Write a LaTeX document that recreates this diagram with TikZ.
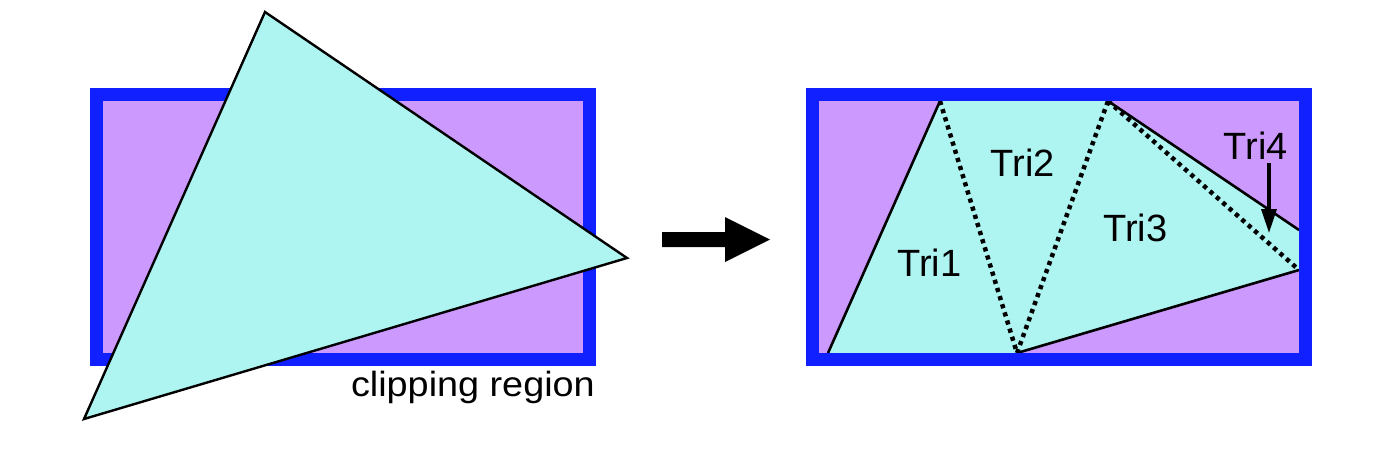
\documentclass[tikz,border=0pt]{standalone}
\usepackage{fontspec}
\setmainfont{Liberation Sans}
\usetikzlibrary{arrows.meta}
\definecolor{regionfill}{RGB}{204,153,255}
\definecolor{regionedge}{RGB}{16,32,255}
\definecolor{trifill}{RGB}{174,245,242}
\tikzset{
  region/.style={fill=regionfill,draw=regionedge,line width=13pt},
  trishape/.style={fill=trifill,draw=black,line width=2.4pt,line join=miter},
  edgeline/.style={draw=black,line width=2.6pt},
  splitline/.style={draw=black,line width=4.5pt,dash pattern=on 4.2pt off 4.3pt},
  lbl/.style={font=\fontsize{38pt}{40pt}\selectfont,inner sep=0pt},
  bigarrow/.style={fill=black,draw=none},
  pointer/.style={draw=black,line width=3.5pt,-{Triangle[length=24pt,width=15pt]}}
}
\begin{document}
\begin{tikzpicture}[x=1pt,y=-1pt]
\useasboundingbox (0,0) rectangle (1390,456);
% ---------- left panel ----------
\draw[region] (96.5,94.5) rectangle (589.5,359.5);
\coordinate (T1) at (265,12);
\coordinate (T2) at (627,258);
\coordinate (T3) at (84,419);
\draw[trishape] (T1) -- (T2) -- (T3) -- cycle;
\node[inner sep=0pt,anchor=base east] (cliplabel) at (595,396)
  {\scalebox{1.08}[1]{\fontsize{35pt}{38pt}\selectfont clipping region}};
% ---------- arrow ----------
\fill[bigarrow] (662,232) -- (725,232) -- (725,217) -- (770,239.5)
  -- (725,262) -- (725,247) -- (662,247) -- cycle;
% ---------- right panel ----------
\fill[regionfill] (812.5,94) rectangle (1305.5,359.5);
\coordinate (A) at (828,353);
\coordinate (B) at (940,101);
\coordinate (C) at (1108,101);
\coordinate (D) at (1299,230);
\coordinate (E) at (1299,270);
\coordinate (F) at (1017,353);
\fill[trifill] (A) -- (B) -- (C) -- (D) -- (E) -- (F) -- cycle;
\draw[edgeline] (A) -- (B);
\draw[edgeline] (C) -- (D);
\draw[edgeline] (E) -- (F);
\draw[splitline] (B) -- (F);
\draw[splitline] (F) -- (C);
\draw[splitline] (C) -- (E);
\draw[draw=regionedge,line width=13pt] (812.5,94) rectangle (1305.5,359.5);
\node[lbl] (tri1) at (929.5,262.5) {Tri1};
\node[lbl] (tri2) at (1023,162.5) {Tri2};
\node[lbl] (tri3) at (1135.5,228) {Tri3};
\node[lbl] (tri4) at (1256,146) {Tri4};
\coordinate (tip4) at (1269,233);
\draw[pointer] (1269,163) -- (tip4);
\end{tikzpicture}
\end{document}
